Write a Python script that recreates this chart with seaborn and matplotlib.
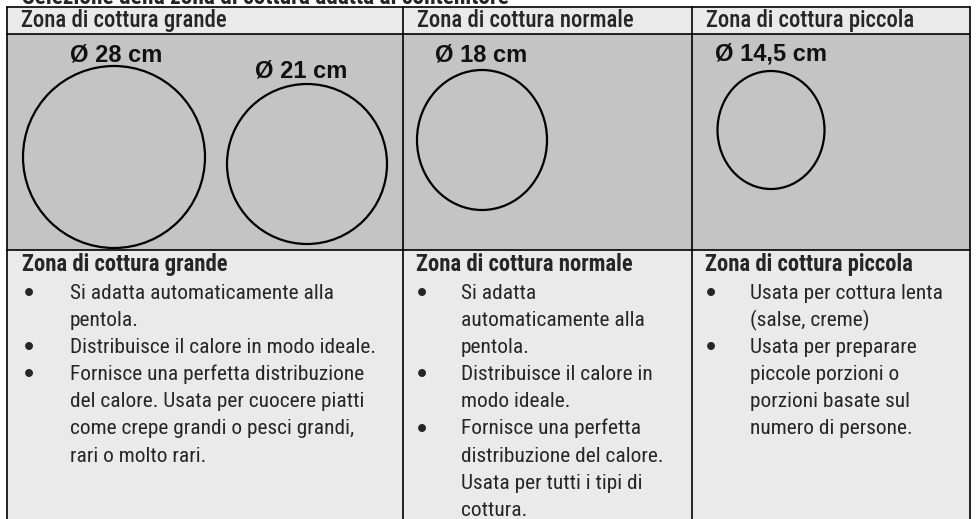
# Tabella: selezione della zona di cottura adatta al contenitore
import matplotlib
matplotlib.use("Agg")
import matplotlib.pyplot as plt
from matplotlib import font_manager
from matplotlib.patches import Rectangle, Ellipse
import seaborn as sns

sns.set_theme(style="white")

# pick the narrowest installed sans family (original uses a condensed face)
installed = {f.name for f in font_manager.fontManager.ttflist}
narrow = next((f for f in ["Roboto Condensed", "DejaVu Sans Condensed",
                           "Liberation Sans Narrow", "Roboto", "Liberation Sans"]
               if f in installed), "DejaVu Sans")
plt.rcParams["font.family"] = [narrow, "DejaVu Sans"]

# ------------------------------------------
# DATA
# ------------------------------------------
title = "Selezione della zona di cottura adatta al contenitore"
zone_names = ["Zona di cottura grande", "Zona di cottura normale", "Zona di cottura piccola"]
diameters_cm = [[28, 21], [18], [14.5]]

# each bullet is a list of already-wrapped lines
bullets_grande = [
    ["Si adatta automaticamente alla", "pentola."],
    ["Distribuisce il calore in modo ideale."],
    ["Fornisce una perfetta distribuzione", "del calore. Usata per cuocere piatti",
     "come crepe grandi o pesci grandi,", "rari o molto rari."],
]
bullets_normale = [
    ["Si adatta", "automaticamente alla", "pentola."],
    ["Distribuisce il calore in", "modo ideale."],
    ["Fornisce una perfetta", "distribuzione del calore.", "Usata per tutti i tipi di", "cottura."],
]
bullets_piccola = [
    ["Usata per cottura lenta", "(salse, creme)"],
    ["Usata per preparare", "piccole porzioni o", "porzioni basate sul", "numero di persone."],
]
bullets = [bullets_grande, bullets_normale, bullets_piccola]

# ------------------------------------------
# LAYOUT (pixel units, y downwards)
# ------------------------------------------
W, H = 977, 519
col_x = [7, 403, 692, 970]
row_y = [7, 34, 250, 519]
light = "#eaeaea"
dark = "#c4c4c4"

circle_xy = [(114, 157), (307, 164), (482, 140), (771, 130)]
circle_wh = [(182, 182), (160, 160), (130, 140), (107, 118)]
label_xy = [(116, 61), (301, 77), (481, 61), (771, 61)]

fig = plt.figure(figsize=(W / 100, H / 100), dpi=100)
ax = fig.add_axes([0, 0, 1, 1])
ax.set_xlim(0, W)
ax.set_ylim(H, 0)
ax.axis("off")
renderer = fig.canvas.get_renderer()


def fit_size(sample, width_px, weight="normal", start=16):
    # font size that makes `sample` about width_px wide
    t = ax.text(0, 0, sample, fontsize=start, fontweight=weight)
    w = t.get_window_extent(renderer).width
    t.remove()
    return start * width_px / w


body_fs = min(fit_size("Distribuisce il calore in modo ideale.", 306), 17)
head_fs = min(fit_size(zone_names[0], 206, "medium"), 18.5)
bold_fs = min(fit_size(zone_names[0], 206, "bold"), 17)
title_fs = min(fit_size(title, 487, "bold"), 17)

# row backgrounds
for (y0, y1), col in zip(zip(row_y[:-1], row_y[1:]), [light, dark, light]):
    ax.add_patch(Rectangle((col_x[0], y0), col_x[-1] - col_x[0], y1 - y0,
                           facecolor=col, edgecolor="none", zorder=0))

# grid lines
for y in row_y[:-1]:
    ax.plot([col_x[0], col_x[-1]], [y, y], color="black", lw=1.2, zorder=2)
for x in col_x:
    ax.plot([x, x], [row_y[0], H], color="black", lw=1.2, zorder=2)

# title (partly cut at the top)
ax.text(22, 4, title, fontsize=title_fs, fontweight="bold", va="baseline", ha="left")

# header row
for i, name in enumerate(zone_names):
    ax.text(col_x[i] + 14, 27, name, fontsize=head_fs, fontweight="medium",
            va="baseline", ha="left")

# circles with diameter labels
labels = [d for col in diameters_cm for d in col]
for k, d in enumerate(labels):
    cx, cy = circle_xy[k]
    w, h = circle_wh[k]
    ax.add_patch(Ellipse((cx, cy), w, h, facecolor="none", edgecolor="black",
                         lw=1.6, zorder=3))
    txt = "Ø " + f"{d:g}".replace(".", ",") + " cm"
    ax.text(label_xy[k][0], label_xy[k][1], txt, fontsize=17, fontweight="bold",
            family=["Liberation Sans", "DejaVu Sans"], ha="center", va="baseline",
            color="#111111", zorder=4)

# body row: bold heading + bullet lists
line_h = 27.1
for i, name in enumerate(zone_names):
    x0 = col_x[i]
    head_x = x0 + (15 if i == 0 else 13)
    bul_x = x0 + (22 if i == 0 else 19)
    txt_x = x0 + (63 if i == 0 else 58)
    ax.text(head_x, 271, name, fontsize=bold_fs, fontweight="bold", va="baseline", ha="left")
    n = 0
    for item in bullets[i]:
        for j, line in enumerate(item):
            yb = 299 + n * line_h
            if j == 0:
                ax.text(bul_x, yb + 3, "•", fontsize=21, va="baseline", ha="center",
                        family=["Liberation Sans", "DejaVu Sans"])
            ax.text(txt_x, yb, line, fontsize=body_fs, va="baseline", ha="left")
            n += 1

fig.savefig("out.png", dpi=100)
